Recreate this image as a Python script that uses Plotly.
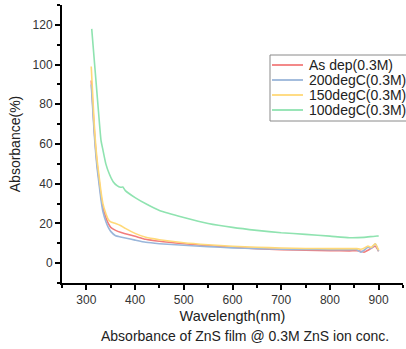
import plotly.graph_objects as go

# Wavelength (nm) sample points for each series
wl_a = [310, 313, 316, 319, 322, 326, 330, 334, 340, 345, 350, 360, 370, 380, 400, 422, 450,
        500, 550, 600, 650, 700, 750, 800, 840, 855, 863, 870, 878, 885, 893, 900]
as_dep = [92, 80, 68, 58, 50, 42, 34, 28, 23, 20, 18, 16.5, 15.5, 14.8, 13.5, 12.0, 11.0,
          9.8, 8.8, 8.0, 7.3, 6.8, 6.5, 6.3, 6.2, 6.3, 6.0, 5.5, 6.5, 7.5, 8.5, 6.0]
deg200 = [90, 78, 66, 56, 48, 40, 32, 26, 21, 18, 16, 13.8, 13.2, 12.7, 11.6, 10.5, 9.8,
          9.0, 8.3, 7.7, 7.3, 7.0, 6.9, 6.8, 6.8, 6.8, 5.5, 6.5, 8.0, 7.5, 9.8, 6.0]
deg150 = [99, 85, 71, 60, 52, 44, 36, 30, 25, 22, 20.8, 20.0, 19.0, 17.5, 15.0, 13.0, 11.8,
          10.3, 9.3, 8.5, 8.0, 7.6, 7.4, 7.3, 7.3, 7.3, 7.0, 7.5, 8.6, 8.0, 9.8, 6.5]

wl_g = [311, 315, 320, 325, 330, 334, 340, 347, 355, 363, 370, 375, 380, 400, 425, 450,
        500, 550, 600, 650, 700, 750, 800, 840, 870, 897, 900]
deg100 = [118, 106, 91, 76, 62, 57, 50, 45, 41, 39, 38.2, 38.3, 36.5, 33, 29.5, 26.5,
          23, 20, 18, 16.5, 15.3, 14.5, 13.6, 12.8, 13.0, 13.7, 13.6]

names = ["As dep(0.3M)", "200degC(0.3M)", "150degC(0.3M)", "100degC(0.3M)"]
colors = ["#f27c7c", "#9ab6da", "#ffd978", "#8fe3b0"]
xs = [wl_a, wl_a, wl_a, wl_g]
series = [as_dep, deg200, deg150, deg100]

fig = go.Figure()
for n, c, x, s in zip(names, colors, xs, series):
    fig.add_trace(go.Scatter(x=x, y=s, mode="lines", name=n,
                             line=dict(color=c, width=1.6, shape="spline", smoothing=0.5),
                             showlegend=False))

# Legend drawn as box, line samples and text (compact spacing like the reference)
L, R, T, B = 62, 3, 5, 66
W, H = 406, 349
pw, ph = W - L - R, H - T - B
def px(x): return (x - L) / pw
def py(y): return (H - B - y) / ph

shapes = [dict(type="rect", xref="paper", yref="paper",
               x0=px(270), x1=px(412), y0=py(121), y1=py(55),
               line=dict(color="#8a8a8a", width=1), fillcolor="white", layer="above")]
annotations = []
for i, (n, c) in enumerate(zip(names, colors)):
    yy = 65 + i * 15
    shapes.append(dict(type="line", xref="paper", yref="paper",
                       x0=px(272), x1=px(303), y0=py(yy), y1=py(yy),
                       line=dict(color=c, width=1.8), layer="above"))
    annotations.append(dict(text=n, xref="paper", yref="paper", x=px(307), y=py(yy),
                            xanchor="left", yanchor="middle", showarrow=False,
                            font=dict(size=14, color="#222")))

annotations.append(dict(text="Absorbance of ZnS film @ 0.3M ZnS ion conc.",
                        xref="paper", yref="paper", x=px(245), y=py(336),
                        xanchor="center", yanchor="middle", showarrow=False,
                        font=dict(size=14, color="#222")))

font = "Liberation Sans, Arial, sans-serif"
fig.update_layout(
    width=W, height=H,
    margin=dict(l=L, r=R, t=T, b=B),
    paper_bgcolor="white", plot_bgcolor="white",
    font=dict(family=font, size=12, color="#333"),
    showlegend=False,
    xaxis=dict(range=[250, 950], showgrid=False, zeroline=False,
               showline=True, linecolor="black", linewidth=2,
               ticks="outside", ticklen=5, tickwidth=1.5, tickcolor="black",
               tick0=300, dtick=100,
               minor=dict(ticks="outside", ticklen=3, tickcolor="black", dtick=50, tick0=250),
               title=dict(text="Wavelength(nm)", font=dict(size=14.5, color="#222"), standoff=4),
               tickfont=dict(size=12, color="#333")),
    yaxis=dict(range=[-10, 130], showgrid=False, zeroline=False,
               showline=True, linecolor="black", linewidth=2,
               ticks="outside", ticklen=5, tickwidth=1.5, tickcolor="black",
               tick0=0, dtick=20,
               minor=dict(ticks="outside", ticklen=3, tickcolor="black", dtick=10, tick0=-10),
               title=dict(text="Absorbance(%)", font=dict(size=14, color="#222"), standoff=9),
               tickfont=dict(size=12, color="#333")),
    shapes=shapes,
    annotations=annotations,
)

fig.write_html("out.html")
